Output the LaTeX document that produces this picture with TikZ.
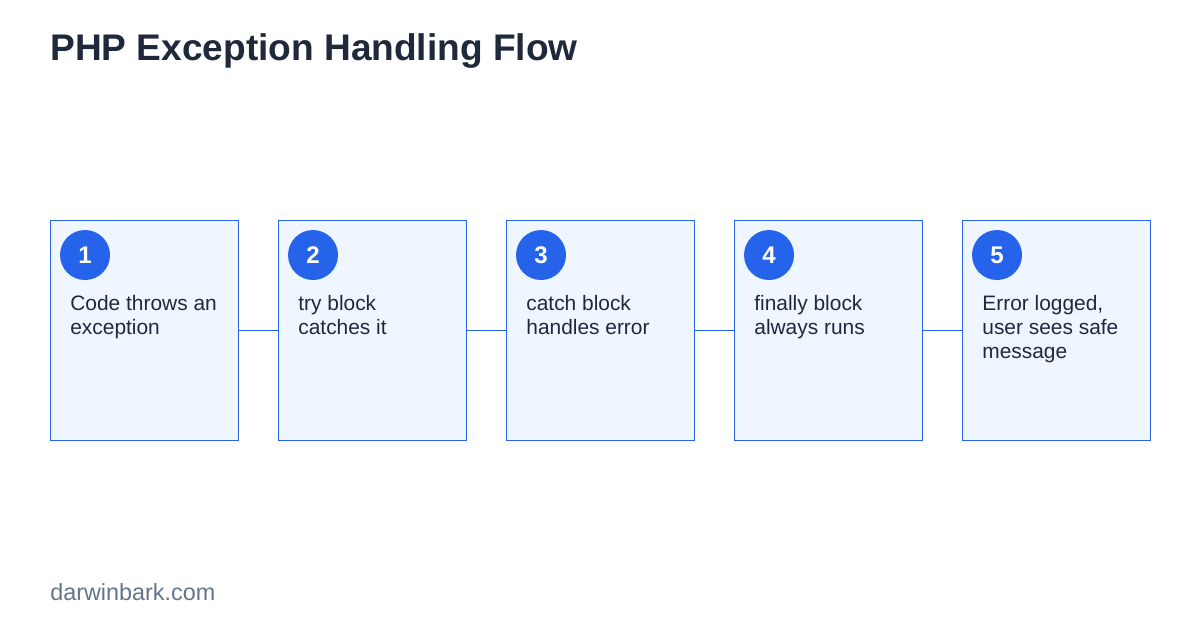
\documentclass[tikz,border=0pt]{standalone}
\usepackage{fontspec}
\setmainfont{Liberation Sans}
\usetikzlibrary{positioning,calc}
\definecolor{edge}{RGB}{37,99,235}
\definecolor{boxfill}{RGB}{239,246,255}
\definecolor{ink}{RGB}{30,41,59}
\definecolor{muted}{RGB}{100,116,139}

\begin{document}
\begin{tikzpicture}[x=0.02cm, y=-0.02cm,
  stage/.style={draw=edge, fill=boxfill, line width=0.5pt, minimum width=3.76cm, minimum height=4.4cm, inner sep=0pt, outer sep=0pt},
  badge/.style={circle, fill=edge, minimum size=1cm, inner sep=0pt, text=white, font=\bfseries\fontsize{13.7pt}{16pt}\selectfont},
  caption/.style={anchor=north west, inner sep=0pt, align=left, text=ink, font=\fontsize{11.9pt}{13.7pt}\selectfont},
  link/.style={draw=edge, line width=0.5pt}]
\useasboundingbox[fill=white] (0,0) rectangle (1200,630);
\node[anchor=base west, inner sep=0pt, text=ink, font=\bfseries\fontsize{21.1pt}{25pt}\selectfont] (title) at (50,60) {PHP Exception Handling Flow};
% stages
\node[stage] (s1) at (144,330) {};
\node[stage] (s2) at (372,330) {};
\node[stage] (s3) at (600,330) {};
\node[stage] (s4) at (828,330) {};
\node[stage] (s5) at (1056,330) {};
% numbers
\node[badge] (n1) at ($(s1.north west)+(35,35)$) {1};
\node[badge] (n2) at ($(s2.north west)+(35,35)$) {2};
\node[badge] (n3) at ($(s3.north west)+(35,35)$) {3};
\node[badge] (n4) at ($(s4.north west)+(35,35)$) {4};
\node[badge] (n5) at ($(s5.north west)+(35,35)$) {5};
% texts
\node[caption] (t1) at ($(s1.north west)+(20,75)$) {Code throws an\\exception};
\node[caption] (t2) at ($(s2.north west)+(20,75)$) {try block\\catches it};
\node[caption] (t3) at ($(s3.north west)+(20,75)$) {catch block\\handles error};
\node[caption] (t4) at ($(s4.north west)+(20,75)$) {finally block\\always runs};
\node[caption] (t5) at ($(s5.north west)+(20,75)$) {Error logged,\\user sees safe\\message};
% connectors
\draw[link] (s1) -- (s2);
\draw[link] (s2) -- (s3);
\draw[link] (s3) -- (s4);
\draw[link] (s4) -- (s5);
\node[anchor=base west, inner sep=0pt, text=muted, font=\fontsize{13.3pt}{15pt}\selectfont] (site) at (50,600) {darwinbark.com};
\end{tikzpicture}
\end{document}
